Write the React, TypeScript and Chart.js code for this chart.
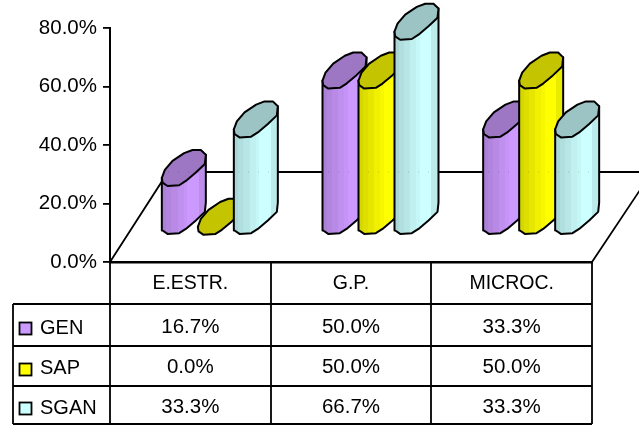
import React, { useEffect, useRef } from "react";
import { Chart, registerables } from "chart.js";

Chart.register(...registerables);

const categories = ["E.ESTR.", "G.P.", "MICROC."];
const seriesNames = ["GEN", "SAP", "SGAN"];
const gen = [16.7, 50.0, 33.3];
const sap = [0.0, 50.0, 50.0];
const sgan = [33.3, 66.7, 33.3];
const seriesValues = [gen, sap, sgan];
const seriesColors = ["#CC99FF", "#FFFF00", "#CCFFFF"];
const FONT = "'Liberation Sans', Arial, sans-serif";

const shade = (hex: string, f: number) => {
  const n = parseInt(hex.slice(1), 16);
  const c = [(n >> 16) & 255, (n >> 8) & 255, n & 255].map((v) => Math.round(v * f));
  return `rgb(${c[0]},${c[1]},${c[2]})`;
};

// Outline of the cylinder's slanted elliptical cap, relative to its left / lowest point
const CAP: [number, number][] = [
  [0, -8], [3, -16], [10.7, -25], [22.3, -32.8], [30.7, -36], [39, -36],
  [44, -31.2], [43, -22], [34, -13.4], [24, -5], [17.3, -0.7], [5.7, 0], [0.7, -3.4],
];
const LOWER: [number, number][] = [
  [0.7, -3.4], [5.7, 0], [17.3, -0.7], [24, -5], [34, -13.4], [43, -22], [44, -31.2],
];
const DX = 25.5;
const DY = -27.2;
const BANDS: [number, number][] = [
  [0, 0.84], [0.1, 0.87], [0.22, 0.9], [0.36, 0.94], [0.5, 0.97],
  [0.58, 1], [0.84, 1], [0.84, 0.92], [1, 0.9],
];

const drawCylinder = (ctx: any, bar: any, color: string) => {
  const x0 = bar.x - bar.width / 2 + DX;
  const yTop = bar.y + DY;
  const yBase = bar.base + DY;
  ctx.save();
  ctx.lineJoin = "round";
  ctx.strokeStyle = "#000";
  ctx.lineWidth = 2;
  if (yBase - yTop > 0.5) {
    const g = ctx.createLinearGradient(x0, 0, x0 + 44, 0);
    BANDS.forEach(([p, f], i) => {
      g.addColorStop(p, shade(color, f));
      const next = BANDS[i + 1];
      if (next && next[0] !== p) g.addColorStop(next[0] - 0.001, shade(color, f));
    });
    ctx.beginPath();
    ctx.moveTo(x0, yTop - 8);
    LOWER.forEach(([dx, dy], i) => {
      if (i === 0) ctx.lineTo(x0, yBase + dy);
      ctx.lineTo(x0 + dx, yBase + dy);
    });
    ctx.lineTo(x0 + 44, yTop - 31.2);
    ctx.closePath();
    ctx.fillStyle = g;
    ctx.fill();
    ctx.stroke();
  }
  ctx.beginPath();
  CAP.forEach(([dx, dy], i) => {
    if (i === 0) ctx.moveTo(x0 + dx, yTop + dy);
    else ctx.lineTo(x0 + dx, yTop + dy);
  });
  ctx.closePath();
  ctx.fillStyle = shade(color, 0.77);
  ctx.fill();
  ctx.stroke();
  ctx.restore();
};

const cylinders = {
  id: "cylinders",
  beforeDatasetsDraw(chart: any) {
    const { ctx, chartArea: a } = chart;
    ctx.save();
    ctx.strokeStyle = "#000";
    ctx.lineWidth = 1.8;
    ctx.beginPath();
    ctx.moveTo(a.left, a.bottom);
    ctx.lineTo(168, 172);
    ctx.lineTo(652, 172);
    ctx.lineTo(a.right, a.bottom);
    ctx.stroke();
    ctx.restore();
    // Series are painted first to last, so each one overlaps the previous one
    seriesNames.forEach((_, i) => {
      chart.getDatasetMeta(i).data.forEach((bar: any) => drawCylinder(ctx, bar, seriesColors[i]));
    });
  },
  beforeDatasetDraw() {
    return false;
  },
  afterDatasetsDraw(chart: any) {
    const { ctx, chartArea: a, scales } = chart;
    const x = scales.x;
    const rowLines = [304, 346, 386, 424];
    const rowText = [327, 367, 407];
    const swatchTop = [322, 363, 402];
    const tableLeft = 13;
    ctx.save();
    // faint trace of the back wall through the bars
    ctx.strokeStyle = "rgba(0,0,0,0.18)";
    ctx.lineWidth = 1;
    ctx.setLineDash([1, 9]);
    ctx.beginPath();
    ctx.moveTo(168, 172);
    ctx.lineTo(600, 172);
    ctx.stroke();
    ctx.setLineDash([]);

    ctx.strokeStyle = "#000";
    ctx.lineWidth = 1.8;
    ctx.beginPath();
    const step = (a.right - a.left) / categories.length;
    for (let i = 0; i <= categories.length; i++) {
      const px = Math.round(a.left + i * step);
      ctx.moveTo(px, a.bottom);
      ctx.lineTo(px, rowLines[rowLines.length - 1]);
    }
    ctx.moveTo(tableLeft, rowLines[0]);
    ctx.lineTo(tableLeft, rowLines[rowLines.length - 1]);
    rowLines.forEach((y) => {
      ctx.moveTo(tableLeft, y);
      ctx.lineTo(a.right, y);
    });
    ctx.stroke();

    ctx.fillStyle = "#000";
    ctx.textBaseline = "middle";
    seriesNames.forEach((name, r) => {
      ctx.font = `20px ${FONT}`;
      ctx.textAlign = "left";
      ctx.fillStyle = "#000";
      ctx.fillText(name, 40, rowText[r] + 1);
      ctx.fillStyle = seriesColors[r];
      ctx.fillRect(19.5, swatchTop[r] + 0.5, 12, 12);
      ctx.strokeRect(19.5, swatchTop[r] + 0.5, 12, 12);
      ctx.fillStyle = "#000";
      ctx.textAlign = "center";
      ctx.font = `20.5px ${FONT}`;
      seriesValues[r].forEach((v, c) => {
        ctx.fillText(v.toFixed(1) + "%", x.getPixelForTick(c), rowText[r]);
      });
    });
    ctx.restore();
  },
};

export default function App() {
  const ref = useRef<HTMLCanvasElement>(null);
  useEffect(() => {
    const chart = new Chart(ref.current!, {
      type: "bar",
      data: {
        labels: categories,
        datasets: seriesNames.map((name, i) => ({
          label: name,
          data: seriesValues[i],
          backgroundColor: seriesColors[i],
        })),
      },
      options: {
        animation: false,
        responsive: false,
        devicePixelRatio: 1,
        layout: { padding: { top: 28, right: 47, left: 0, bottom: 0 } },
        plugins: { legend: { display: false }, tooltip: { enabled: false }, title: { display: false } },
        datasets: { bar: { categoryPercentage: 108 / 160.67, barPercentage: 1 } },
        scales: {
          x: {
            afterFit: (s: any) => { s.height = 163; },
            grid: { display: false },
            border: { color: "#000", width: 2.5 },
            ticks: {
              color: "#000",
              font: { family: FONT, size: 19.5 },
              padding: 2,
              maxRotation: 0,
              autoSkip: false,
            },
          },
          y: {
            min: 0,
            max: 80,
            afterFit: (s: any) => { s.width = 110; },
            border: { color: "#000", width: 2 },
            grid: { drawOnChartArea: false, color: "#000", tickLength: 7, lineWidth: 1.8 },
            ticks: {
              stepSize: 20,
              color: "#000",
              font: { family: FONT, size: 20.5 },
              padding: 6,
              callback: (v: any) => Number(v).toFixed(1) + "%",
            },
          },
        },
      },
      plugins: [cylinders],
    } as any);
    return () => chart.destroy();
  }, []);
  return (
    <canvas
      ref={ref}
      width={639}
      height={425}
      style={{ position: "fixed", left: 0, top: 0, width: 639, height: 425, display: "block" }}
    />
  );
}
